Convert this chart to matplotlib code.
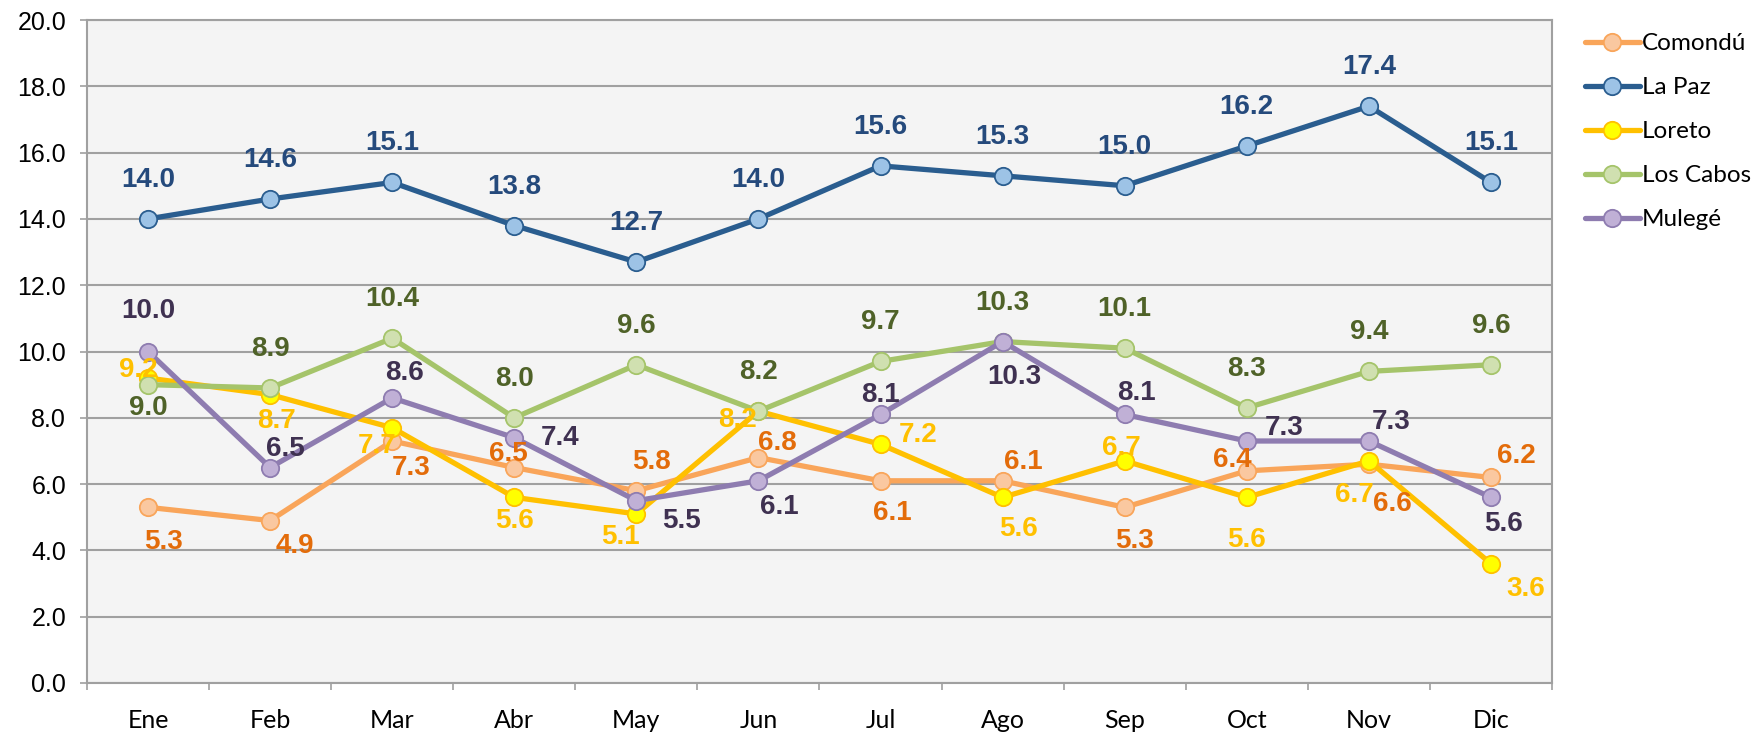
import matplotlib.pyplot as plt
from matplotlib.ticker import FixedLocator

months = ['Ene', 'Feb', 'Mar', 'Abr', 'May', 'Jun', 'Jul', 'Ago', 'Sep', 'Oct', 'Nov', 'Dic']
comondu = [5.3, 4.9, 7.3, 6.5, 5.8, 6.8, 6.1, 6.1, 5.3, 6.4, 6.6, 6.2]
la_paz = [14.0, 14.6, 15.1, 13.8, 12.7, 14.0, 15.6, 15.3, 15.0, 16.2, 17.4, 15.1]
loreto = [9.2, 8.7, 7.7, 5.6, 5.1, 8.2, 7.2, 5.6, 6.7, 5.6, 6.7, 3.6]
los_cabos = [9.0, 8.9, 10.4, 8.0, 9.6, 8.2, 9.7, 10.3, 10.1, 8.3, 9.4, 9.6]
mulege = [10.0, 6.5, 8.6, 7.4, 5.5, 6.1, 8.1, 10.3, 8.1, 7.3, 7.3, 5.6]

# label offsets in pixels (dx right, dy down) from each marker
off_comondu = [(15, 35), (25, 25), (19, 27), (-6, -14), (15, -29), (19, -15),
               (12, 32), (21, -19), (10, 34), (-14, -11), (24, 40), (25, -21)]
off_lapaz = [(0, -39)] * 12
off_loreto = [(-10, -8), (6, 26), (-15, 18), (0, 24), (-16, 23), (-21, 9),
              (38, -9), (16, 32), (-3, -13), (0, 43), (-15, 34), (35, 25)]
off_cabos = [(0, 23)] + [(0, -39)] * 11
off_mulege = [(0, -40), (15, -19), (12, -25), (46, 0), (45, 20), (21, 26),
              (0, -19), (12, 35), (12, -21), (37, -13), (22, -19), (13, 27)]

series = [
    ('Comondú', comondu, off_comondu, '#F9A55A', '#FAC8A0', '#E36C0A'),
    ('La Paz', la_paz, off_lapaz, '#2A5D8F', '#9DC3E6', '#254A7C'),
    ('Loreto', loreto, off_loreto, '#FFC000', '#FFFF00', '#FFC000'),
    ('Los Cabos', los_cabos, off_cabos, '#A5C46A', '#D0E0B0', '#4F6228'),
    ('Mulegé', mulege, off_mulege, '#8E7CB0', '#C0B0D6', '#3F3151'),
]

fig = plt.figure(figsize=(17.54, 7.32), dpi=100)
ax = fig.add_axes([87 / 1754, 1 - 683 / 732, 1465 / 1754, 663 / 732])
ax.set_facecolor('#F4F4F4')

x = list(range(len(months)))
handles = []
for k, (name, vals, offs, lc, fc, tc) in enumerate(series):
    h, = ax.plot(x, vals, color=lc, lw=3.8, marker='o', ms=12.5,
                 mfc=fc, mec=lc, mew=1.3, label=name, zorder=3 + k,
                 solid_capstyle='round')
    handles.append(h)

for name, vals, offs, lc, fc, tc in series:
    for i, v in enumerate(vals):
        dx, dy = offs[i]
        ax.annotate(f'{v:.1f}', (i, v), xytext=(dx, -dy), textcoords='offset pixels',
                    ha='center', va='center', fontsize=20, fontweight='bold',
                    color=tc, family='Liberation Sans', zorder=10)

ax.set_xlim(-0.5, 11.5)
ax.set_ylim(0, 20)
ax.set_yticks([i * 2 for i in range(11)])
ax.set_yticklabels([f'{i * 2:.1f}' for i in range(11)], fontsize=18, family='Liberation Sans')
ax.set_xticks(x)
ax.set_xticklabels(months, fontsize=18, family='Lato')
ax.xaxis.set_minor_locator(FixedLocator([i - 0.5 for i in range(13)]))
ax.tick_params(axis='x', which='major', length=0, pad=19)
ax.tick_params(axis='x', which='minor', length=5, width=1.2, color='#A0A0A0')
ax.tick_params(axis='y', length=5, width=1.2, color='#A0A0A0', pad=10)
ax.grid(axis='y', color='#A0A0A0', lw=1.5, zorder=0)
ax.set_axisbelow(True)
for s in ax.spines.values():
    s.set_color('#A0A0A0')
    s.set_linewidth(1.5)

fig.legend(handles=handles, loc='upper left', bbox_to_anchor=(1585 / 1754, 1 - 33 / 732),
           frameon=False, borderpad=0, borderaxespad=0, handlelength=2.25,
           handletextpad=0.1, labelspacing=0.95, numpoints=1,
           prop={'family': 'Lato', 'size': 17.5})

fig.savefig('out.png', dpi=100)
